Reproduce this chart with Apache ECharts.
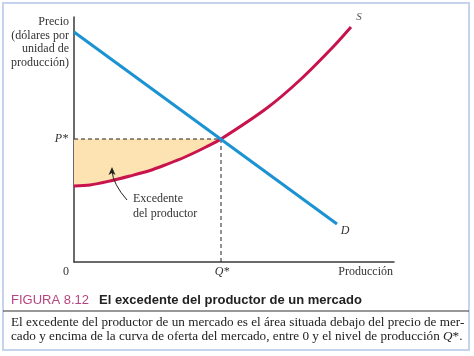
<!DOCTYPE html>
<html><head><meta charset="utf-8">
<script src="https://cdn.jsdelivr.net/npm/echarts@6/dist/echarts.min.js"></script>
<style>html,body{margin:0;padding:0;background:#fff}#c{width:474px;height:356px}</style>
</head><body><div id="c"></div>
<script>
// Supply curve S (quantity, price)
const supplyQ = [0, 16, 36, 56, 76, 91, 111, 131, 147, 193, 226, 259, 277];
const supplyP = [76, 77, 81, 86, 91.5, 97, 105, 114.5, 123, 154, 182, 215, 235];
// Demand line D
const demandQ = [0, 263];
const demandP = [230, 38];
// Equilibrium
const eqQ = 147, eqP = 123;
// Axis extents
const xMax = 320, yMax = 245;
// Annotation arrow (from text to area)
const arrowFrom = [53, 62];
const arrowTo = [38, 94];

const serif = '"Liberation Serif", "DejaVu Serif", serif';
const sans = '"Liberation Sans", Arial, sans-serif';

const chart = echarts.init(document.getElementById('c'), null, {renderer: 'canvas'});

const surplusData = supplyQ.map((q, i) => [q, supplyP[i]]).filter(d => d[0] <= eqQ);

chart.setOption({
  animation: false,
  backgroundColor: '#fff',
  grid: {left: 74, top: 17, width: 320, height: 245},
  xAxis: {type: 'value', min: 0, max: xMax,
    axisLine: {show: true, onZero: false, lineStyle: {color: '#3a3a3a', width: 1.5}},
    axisTick: {show: false}, axisLabel: {show: false}, splitLine: {show: false}},
  yAxis: {type: 'value', min: 0, max: yMax,
    axisLine: {show: true, onZero: false, lineStyle: {color: '#3a3a3a', width: 1.5}},
    axisTick: {show: false}, axisLabel: {show: false}, splitLine: {show: false}},
  series: [
    {type: 'line', data: surplusData, smooth: 0.3, symbol: 'none',
     lineStyle: {opacity: 0}, areaStyle: {color: '#fde3b1', opacity: 1, origin: eqP}, silent: true, z: 1},
    {type: 'line', data: [[0, eqP], [eqQ, eqP], [eqQ, 0]], symbol: 'none',
     lineStyle: {color: '#222', width: 1, type: [4, 3]}, z: 3},
    {type: 'line', data: supplyQ.map((q, i) => [q, supplyP[i]]), smooth: 0.3, symbol: 'none',
     lineStyle: {color: '#c8134c', width: 3}, z: 4},
    {type: 'line', data: demandQ.map((q, i) => [q, demandP[i]]), symbol: 'none',
     lineStyle: {color: '#1b93d3', width: 3}, z: 5}
  ]
});

const px = (x, y) => chart.convertToPixel({gridIndex: 0}, [x, y]);
const pEq = px(eqQ, eqP);
const pOrig = px(0, 0);
const pXEnd = px(xMax, 0);
const pSEnd = px(supplyQ[supplyQ.length - 1], supplyP[supplyP.length - 1]);
const pDEnd = px(demandQ[1], demandP[1]);
const pA0 = px(arrowFrom[0], arrowFrom[1]);
const pA1 = px(arrowTo[0], arrowTo[1]);

const t = (x, y, text, opts) => ({type: 'text', x, y, silent: true, z: 100,
  style: Object.assign({text, font: '12px ' + serif, fill: '#333', verticalAlign: 'middle'}, opts || {})});

const capFont = '13.2px ' + serif;

chart.setOption({
  graphic: [
    {type: 'rect', shape: {x: 3, y: 3, width: 466, height: 347}, z: 100,
     style: {fill: null, stroke: '#c6d3ec', lineWidth: 2}, silent: true},
    {type: 'bezierCurve', z: 100, silent: true,
     shape: {x1: pA0[0], y1: pA0[1], x2: pA1[0], y2: pA1[1] + 3, cpx1: pA1[0] + 1, cpy1: pA1[1] + 16},
     style: {stroke: '#222', lineWidth: 1, fill: null}},
    {type: 'polygon', z: 100, silent: true,
     shape: {points: [[pA1[0], pA1[1] - 1], [pA1[0] - 3.5, pA1[1] + 7], [pA1[0], pA1[1] + 5], [pA1[0] + 3.5, pA1[1] + 7]]},
     style: {fill: '#222'}},
    t(69, 15.5, 'Precio\n(dólares por\nunidad de\nproducción)', {align: 'right', verticalAlign: 'top', lineHeight: 13.4}),
    t(pOrig[0] - 6, pEq[1], 'P*', {align: 'right', font: 'italic 12px ' + serif}),
    t(pOrig[0] - 8, pOrig[1] + 10, '0', {align: 'center'}),
    t(pEq[0] + 1, pOrig[1] + 10, 'Q*', {align: 'center', font: 'italic 12px ' + serif}),
    t(pXEnd[0] - 1, pOrig[1] + 10, 'Producción', {align: 'right'}),
    t(pSEnd[0] + 8, pSEnd[1] - 10, 'S', {align: 'center', font: 'italic 11px ' + serif, fill: '#555'}),
    t(pDEnd[0] + 8, pDEnd[1] + 7, 'D', {align: 'center', font: 'italic 12px ' + serif}),
    t(pA0[0] + 6, pA0[1] + 6, 'Excedente\ndel productor', {align: 'left', lineHeight: 15}),
    t(11, 300, 'FIGURA 8.12', {font: '13px ' + sans, fill: '#b6457f'}),
    t(99, 300, 'El excedente del productor de un mercado', {font: 'bold 13px ' + sans, fill: '#222'}),
    {type: 'line', shape: {x1: 3, y1: 311, x2: 469, y2: 311}, z: 100, style: {stroke: '#333', lineWidth: 1}, silent: true},
    t(11, 323, 'El excedente del productor de un mercado es el área situada debajo del precio de mer-', {fill: '#222', font: capFont}),
    {type: 'text', x: 11, y: 337, silent: true, z: 100, style: {
      text: '{n|cado y encima de la curva de oferta del mercado, entre 0 y el nivel de producción }{i|Q}{n|*.}',
      verticalAlign: 'middle', fill: '#222', font: capFont,
      rich: {n: {font: capFont, fill: '#222'}, i: {font: 'italic ' + capFont, fill: '#222'}}}}
  ]
});
</script></body></html>
